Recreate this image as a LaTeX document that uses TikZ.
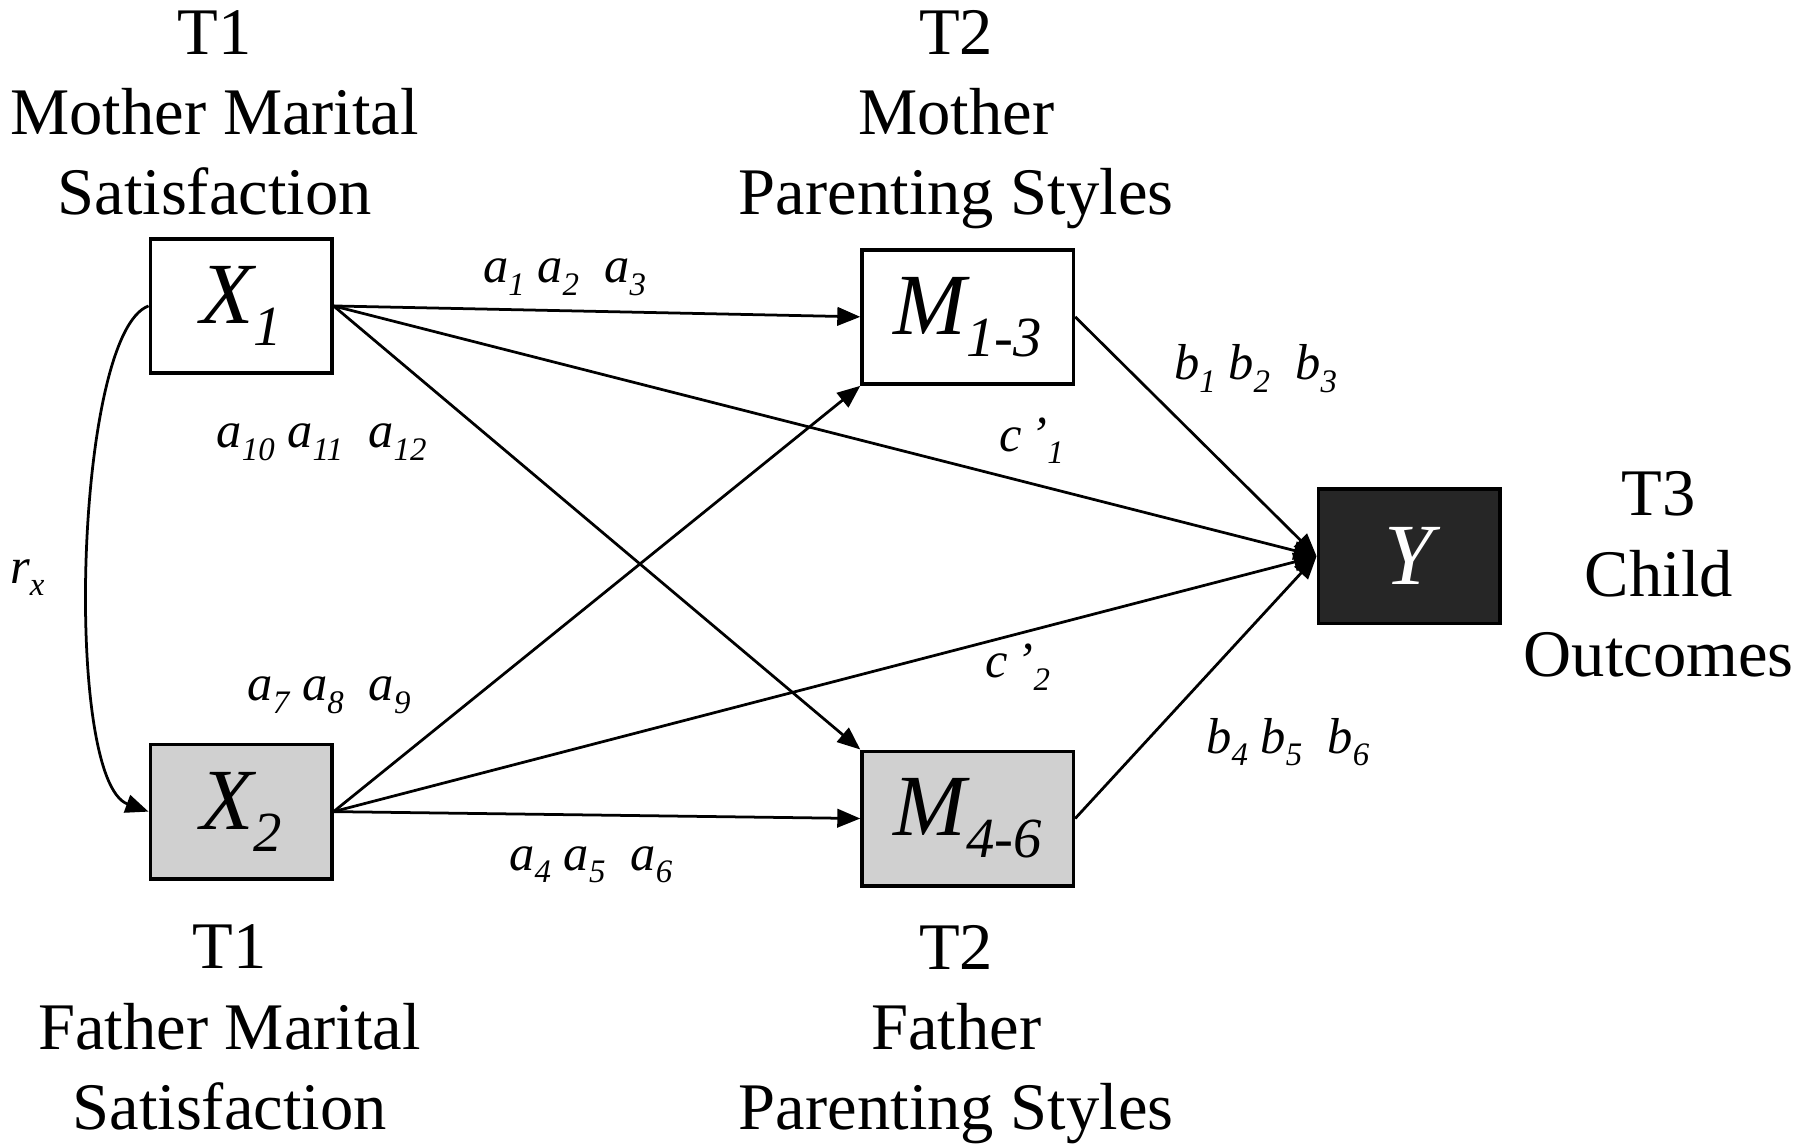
\documentclass[tikz,border=0pt]{standalone}
\usepackage{fontspec}
\setmainfont{Liberation Serif}
\usetikzlibrary{arrows.meta}
\definecolor{boxgray}{RGB}{208,208,208}
\definecolor{boxdark}{RGB}{38,38,38}
\newcommand{\lsub}[1]{\raisebox{-0.55ex}{\fontsize{0.65em}{0.7em}\selectfont\itshape #1}}
\newcommand{\pl}[2]{\textit{#1}\lsub{#2}}
\begin{document}
\begin{tikzpicture}[x=0.25pt,y=-0.25pt,
  var/.style={draw=black, line width=0.8pt, inner sep=0pt, minimum width=39.5pt, minimum height=29.25pt, font=\fontsize{19}{22}\selectfont\itshape},
  mvar/.style={var, minimum width=46pt},
  lbl/.style={align=center, inner sep=0pt, anchor=north, font=\fontsize{14.5}{17.5}\selectfont},
  coef/.style={inner sep=0pt, anchor=base west, font=\fontsize{11}{13}\selectfont},
  conn/.style={line width=0.6pt, -{Triangle[length=5pt,width=4pt]}},
]
\useasboundingbox (0,0) rectangle (1568,999);
% boxes
\node[var] (X1) at (210,266.5) {X\lsub{1}};
\node[var, fill=boxgray] (X2) at (210,707) {X\lsub{2}};
\node[mvar] (M13) at (843,276) {M\lsub{1-3}};
\node[mvar, fill=boxgray] (M46) at (843,713) {M\lsub{4-6}};
\node[var, fill=boxdark, text=white] (Y) at (1227.5,484.5) {Y};
% block labels
\node[lbl] (L1) at (187,8) {T1\\Mother Marital\\Satisfaction};
\node[lbl] (L2) at (833,8) {T2\\Mother\\Parenting Styles};
\node[lbl] (L3) at (1445,410) {T3\\Child\\Outcomes};
\node[lbl] (L4) at (200,805) {T1\\Father Marital\\Satisfaction};
\node[lbl] (L5) at (833,805) {T2\\Father\\Parenting Styles};
% connectors
\draw[conn] (X1.east) -- (M13.west);
\draw[conn] (X1.east) -- (Y.west);
\draw[conn] (X1.east) -- (M46.north west);
\draw[conn] (X2.east) -- (M13.south west);
\draw[conn] (X2.east) -- (Y.west);
\draw[conn] (X2.east) -- (M46.west);
\draw[conn] (M13.east) -- (Y.west);
\draw[conn] (M46.east) -- (Y.west);
\draw[conn] (X1.west) .. controls (65,290) and (55,680) .. (X2.west);
% coefficient labels
\node[coef] (ca) at (420,246) {\pl{a}{1} \pl{a}{2}\ \ \pl{a}{3}};
\node[coef] (cb) at (188,390) {\pl{a}{10} \pl{a}{11}\ \ \pl{a}{12}};
\node[coef] (cc) at (1022,331) {\pl{b}{1} \pl{b}{2}\ \ \pl{b}{3}};
\node[coef] (cd) at (870,393) {\textit{c\,\textquoteright}\lsub{1}};
\node[coef] (ce) at (8,508) {\pl{r}{x}};
\node[coef] (cf) at (215,610) {\pl{a}{7} \pl{a}{8}\ \ \pl{a}{9}};
\node[coef] (cg) at (858,590) {\textit{c\,\textquoteright}\lsub{2}};
\node[coef] (ch) at (1050,656) {\pl{b}{4} \pl{b}{5}\ \ \pl{b}{6}};
\node[coef] (ci) at (443,758) {\pl{a}{4} \pl{a}{5}\ \ \pl{a}{6}};
\end{tikzpicture}
\end{document}
